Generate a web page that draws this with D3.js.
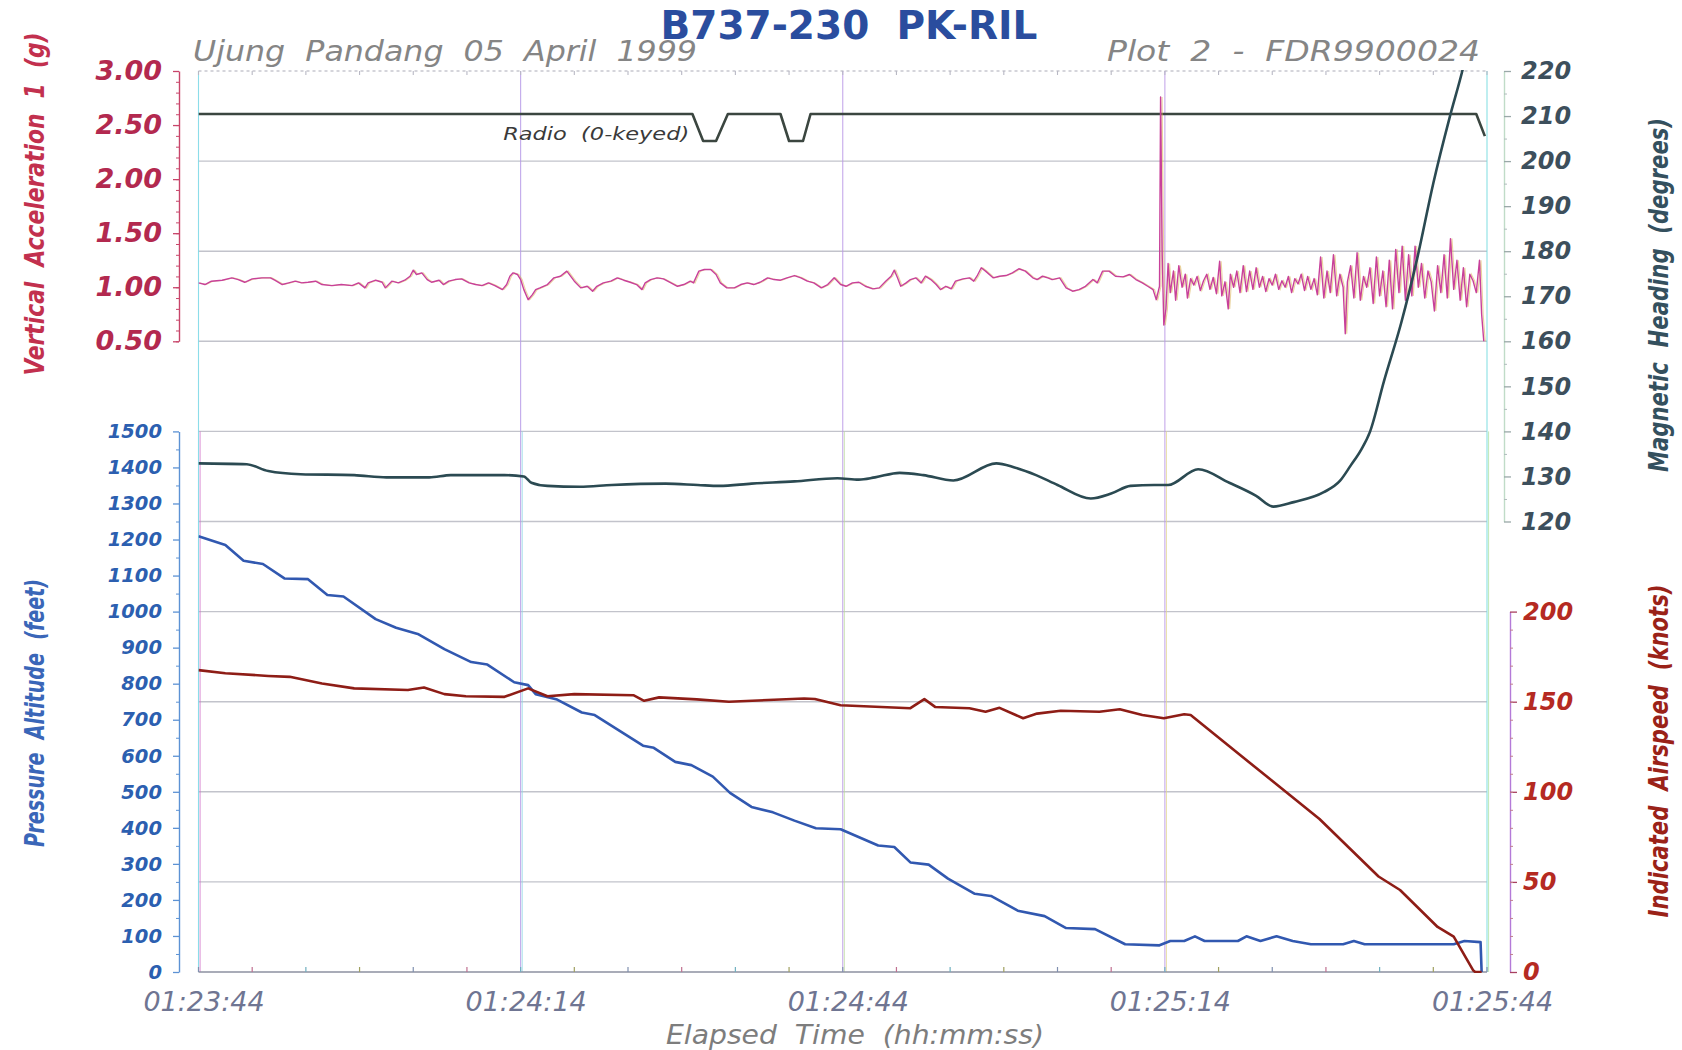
<!DOCTYPE html>
<html><head><meta charset="utf-8">
<script src="https://cdn.jsdelivr.net/npm/d3@7/dist/d3.min.js"></script>
<style>body{margin:0;background:#fff}svg{display:block}text{white-space:pre}</style>
</head><body>
<svg id="chart" width="1682" height="1050"></svg>
<script>
// ---------------- data ----------------
const timeTicks = [0, 30, 60, 90, 120];               // seconds after 01:23:44
const timeLabels = ["01:23:44", "01:24:14", "01:24:44", "01:25:14", "01:25:44"];
const accelTicks = [0.5, 1.0, 1.5, 2.0, 2.5, 3.0];
const altitudeTicks = [0,100,200,300,400,500,600,700,800,900,1000,1100,1200,1300,1400,1500];
const headingTicks = [120,130,140,150,160,170,180,190,200,210,220];
const airspeedTicks = [0, 50, 100, 150, 200];

// Radio keyed (1 = not keyed, 0 = keyed)
const radioKeyed = [[0,1],[46.0,1],[47.0,0],[48.2,0],[49.3,1],[54.2,1],[55.0,0],[56.3,0],[57.0,1],[119.0,1],[119.8,0.18]];

// Vertical acceleration (g)
const accelG = [
[0.0,1.040],[0.6,1.025],[1.2,1.056],[2.2,1.065],[3.1,1.087],[3.7,1.071],[4.3,1.046],[5.0,1.077],[5.9,1.087],[6.7,1.087],
[7.1,1.065],[7.8,1.025],[8.4,1.040],[9.0,1.056],[9.6,1.040],[10.2,1.046],[10.9,1.056],[11.5,1.025],[12.4,1.015],[13.3,1.025],
[14.3,1.015],[14.9,1.040],[15.5,0.994],[15.8,1.040],[16.5,1.065],[17.1,1.046],[17.4,0.994],[18.0,1.056],[18.6,1.040],[19.2,1.065],
[19.7,1.102],[20.0,1.158],[20.3,1.118],[20.8,1.133],[21.3,1.071],[21.7,1.046],[22.4,1.065],[22.8,1.025],[23.3,1.056],[23.9,1.071],
[24.5,1.077],[25.2,1.040],[25.8,1.025],[26.4,1.015],[27.0,1.040],[27.6,1.015],[28.3,0.978],[28.7,1.025],[29.0,1.102],[29.3,1.133],
[29.7,1.118],[30.0,1.071],[30.3,0.978],[30.7,0.885],[31.1,0.932],[31.4,0.978],[31.8,0.994],[32.5,1.025],[33.1,1.087],[33.7,1.102],
[34.3,1.149],[35.0,1.056],[35.6,0.994],[36.2,1.009],[36.7,0.963],[37.1,1.009],[37.7,1.040],[38.4,1.056],[39.0,1.087],[39.6,1.065],
[40.2,1.046],[40.8,1.025],[41.3,0.978],[41.6,1.040],[42.1,1.071],[42.7,1.087],[43.3,1.077],[44.0,1.040],[44.6,1.009],[45.2,1.025],
[45.8,1.056],[46.1,1.040],[46.6,1.149],[47.1,1.164],[47.7,1.164],[48.2,1.118],[48.6,1.040],[49.2,0.994],[49.9,0.994],[50.5,1.025],
[51.1,1.040],[51.7,1.025],[52.3,1.046],[53.0,1.087],[53.6,1.071],[54.2,1.065],[54.8,1.087],[55.5,1.108],[56.1,1.087],[56.7,1.056],
[57.3,1.040],[58.0,0.994],[58.6,1.025],[59.2,1.087],[59.8,1.025],[60.3,1.009],[60.9,1.040],[61.5,1.046],[62.1,1.009],[62.8,0.985],
[63.4,0.994],[64.0,1.056],[64.5,1.102],[64.8,1.158],[65.1,1.087],[65.4,1.009],[65.9,1.040],[66.3,1.071],[66.8,1.087],[67.3,1.040],
[67.7,1.102],[68.2,1.071],[68.7,1.025],[69.1,0.978],[69.6,1.009],[70.1,0.985],[70.5,1.056],[71.2,1.077],[71.8,1.087],[72.2,1.056],
[72.5,1.102],[72.9,1.180],[73.3,1.149],[74.0,1.087],[74.6,1.102],[75.2,1.108],[75.8,1.133],[76.4,1.171],[77.0,1.149],[77.7,1.087],
[78.1,1.071],[78.6,1.102],[79.1,1.087],[79.5,1.071],[80.2,1.087],[80.8,0.994],[81.4,0.963],[82.0,0.978],[82.6,1.009],[83.3,1.071],
[83.7,1.040],[84.2,1.149],[84.8,1.149],[85.4,1.102],[86.1,1.096],[86.7,1.118],[87.3,1.071],[87.9,1.040],[88.4,1.009],[88.9,0.978],
[89.2,0.885],[89.5,1.009],[89.6,2.76],[89.75,1.30],[89.9,0.65],[90.1,0.80],
[90.3,1.22],[90.5,0.95],[90.8,1.15],[91.0,0.88],[91.3,1.20],[91.6,1.00],[91.9,1.12],[92.1,0.90],[92.4,1.08],[92.7,1.02],
[93.0,1.10],[93.3,0.97],[93.6,1.06],[93.9,1.12],[94.2,0.98],[94.5,1.09],[94.8,0.94],[95.1,1.24],[95.3,0.92],[95.6,1.05],
[95.9,0.80],[96.1,1.12],[96.4,1.00],[96.7,1.15],[97.0,0.95],[97.3,1.20],[97.6,0.96],[97.9,1.15],[98.2,0.98],[98.5,1.18],
[98.8,1.00],[99.1,1.10],[99.4,0.96],[99.7,1.08],[100.0,1.02],[100.3,1.12],[100.6,0.98],[100.9,1.06],[101.2,1.00],[101.5,1.10],
[101.8,0.95],[102.1,1.08],[102.4,1.03],[102.7,1.12],[103.0,0.97],[103.3,1.10],[103.6,0.98],[103.9,1.08],[104.2,0.93],[104.5,1.28],
[104.8,0.90],[105.1,1.15],[105.4,0.95],[105.7,1.30],[106.0,0.92],[106.3,1.12],[106.6,1.00],[106.8,0.57],[107.0,1.05],[107.3,1.20],
[107.6,0.90],[107.9,1.32],[108.2,0.88],[108.5,1.10],[108.8,1.00],[109.1,1.18],[109.4,0.85],[109.7,1.28],[110.0,0.92],[110.3,1.15],
[110.6,0.82],[110.9,1.25],[111.2,0.80],[111.5,1.35],[111.8,0.95],[112.1,1.38],[112.4,0.88],[112.7,1.30],[113.0,0.92],[113.3,1.38],
[113.6,1.00],[113.9,1.22],[114.2,0.90],[114.5,1.15],[114.8,1.05],[115.1,0.78],[115.4,1.20],[115.7,0.95],[116.0,1.30],[116.3,0.90],
[116.6,1.45],[116.9,0.98],[117.2,1.25],[117.5,0.88],[117.8,1.18],[118.1,0.82],[118.4,1.12],[118.7,1.06],[119.0,0.95],[119.3,1.25],
[119.5,0.75],[119.7,0.50]
];

// Magnetic heading (degrees)
const headingDeg = [
[0,132.9],[4.5,132.7],[6.5,131.2],[9.5,130.5],[14.5,130.3],[17.5,129.8],[21.5,129.8],[23.5,130.3],[28.5,130.3],[30.3,130.0],
[31.0,128.6],[32.5,127.9],[35.5,127.7],[38.5,128.1],[43.5,128.4],[46.5,128.1],[48.5,127.9],[51.5,128.4],[55.5,128.9],[59.5,129.6],
[61.5,129.3],[63.0,129.8],[65.3,130.8],[67.5,130.3],[70.3,129.1],[74.3,132.9],[76.0,132.0],[78.0,130.3],[80.0,128.1],[83.1,125.1],
[85.0,126.2],[86.8,127.9],[89.0,128.1],[90.3,128.1],[93.1,131.6],[96.0,128.6],[98.5,125.7],[100.1,123.3],[102.0,124.3],[104.8,126.5],
[106.3,129.0],[107.3,132.4],[108.3,136.0],[109.1,139.9],[110.4,151.1],[112.0,164.0],[113.5,178.4],[115.0,195.1],[116.5,209.5],[117.7,220.0],[118.5,228.0]
];

// Pressure altitude (feet)
const altitudeFt = [
[0,1209],[2.5,1185],[4.2,1141],[6.0,1132],[8.0,1092],[10.2,1090],[12.0,1046],[13.5,1042],[16.5,979],[18.4,955],
[20.5,937],[22.9,896],[25.4,860],[26.9,853],[29.4,804],[30.7,796],[31.4,771],[33.4,756],[35.7,720],[36.9,713],
[41.4,628],[42.4,622],[44.4,583],[45.9,574],[47.9,542],[49.5,497],[51.5,458],[53.5,443],[55.5,420],[57.5,399],
[59.8,396],[63.3,351],[64.8,347],[66.3,304],[68.0,298],[69.8,259],[72.3,217],[73.8,211],[76.3,170],[78.8,155],
[80.8,122],[83.5,119],[86.3,77],[89.5,74],[90.5,86],[91.8,86],[92.8,99],[93.7,86],[96.8,86],[97.6,99],
[98.9,86],[100.4,99],[101.9,86],[103.6,77],[106.6,77],[107.6,86],[108.6,77],[116.9,77],[117.9,86],[119.4,83],[119.5,0]
];

// Indicated airspeed (knots)
const airspeedKt = [
[0,167.5],[2.5,165.8],[6.5,164.3],[8.5,163.8],[11.5,160.1],[14.5,157.4],[19.5,156.5],[21.0,157.9],[22.9,154.2],[24.9,153.0],
[28.5,152.7],[30.7,157.4],[32.5,153.0],[35.0,154.2],[40.5,153.6],[41.5,150.5],[42.9,152.4],[46.4,151.3],[49.4,150.0],[56.4,151.8],
[57.4,151.5],[59.8,148.0],[66.3,146.4],[67.6,151.4],[68.6,147.1],[71.8,146.4],[73.3,144.4],[74.6,146.6],[76.8,140.8],[78.1,143.4],
[80.3,145.0],[83.9,144.4],[85.8,145.8],[87.9,142.6],[89.9,140.8],[91.8,143.0],[92.4,142.6],[99.9,106.5],[104.4,84.9],[109.9,53.0],
[111.9,45.5],[115.4,25.0],[116.9,19.6],[118.7,1.0],[118.9,0],[119.5,0]
];

// ---------------- layout ----------------
const svg = d3.select("#chart");
const L = 198.5, R = 1487, T = 71, B = 972, row = (B - T) / 10;
const FONT = "'DejaVu Sans', 'Liberation Sans', sans-serif";

const x = d3.scaleLinear().domain([0, 120]).range([L, R]);
const yAcc = d3.scaleLinear().domain([0.5, 3]).range([T + 3 * row, T]);
const yHead = d3.scaleLinear().domain([120, 220]).range([T + 5 * row, T]);
const yAlt = d3.scaleLinear().domain([0, 1500]).range([B, T + 4 * row]);
const yIas = d3.scaleLinear().domain([0, 200]).range([B, T + 6 * row]);
const yRadio = d3.scaleLinear().domain([0, 1]).range([141, 114]);

svg.append("rect").attr("width", 1682).attr("height", 1050).attr("fill", "#ffffff");

svg.append("defs").append("clipPath").attr("id", "plotclip")
  .append("rect").attr("x", L).attr("y", T - 1).attr("width", R - L + 2).attr("height", B - T + 2);

// ---------------- grid ----------------
const grid = svg.append("g");
const hGrid = headingTicks.filter(d => (220 - d) % 20 === 0 && d < 220).map(d => yHead(d))
  .concat(airspeedTicks.filter(d => d > 0).map(d => yIas(d)));
grid.selectAll("line.h").data(hGrid).join("line")
  .attr("x1", L).attr("x2", R).attr("y1", d => d).attr("y2", d => d)
  .attr("stroke", "#c2c3cb").attr("stroke-width", 1.4);
// top border (dotted)
grid.append("line").attr("x1", L).attr("x2", R).attr("y1", T).attr("y2", T)
  .attr("stroke", "#c8c8d0").attr("stroke-width", 1.5).attr("stroke-dasharray", "3,3");

const vCols = [["#78d8e6", "#d070c8"], ["#b69ae8", "#8ed8e4"], ["#bc9ae8", "#bcdc9c"], ["#bc9ae8", "#e4d890"], ["#78dce0", "#a8e2a0"]];
timeTicks.forEach((t, i) => {
  grid.append("line").attr("x1", x(t)).attr("x2", x(t)).attr("y1", T).attr("y2", B)
    .attr("stroke", vCols[i][0]).attr("stroke-width", 1.1).attr("opacity", 0.85);
  grid.append("line").attr("x1", x(t) + 1.6).attr("x2", x(t) + 1.6).attr("y1", T + row * 4).attr("y2", B)
    .attr("stroke", vCols[i][1]).attr("stroke-width", 1.0).attr("opacity", 0.75);
});

// bottom border with minor ticks
grid.append("line").attr("x1", L).attr("x2", R).attr("y1", B).attr("y2", B)
  .attr("stroke", "#8d90a0").attr("stroke-width", 1.6);
const minorT = d3.range(0, 121, 5);
const tickCols = ["#8090b0", "#c07090", "#70b0c0", "#a0a060"];
grid.selectAll("line.mb").data(minorT).join("line")
  .attr("x1", d => x(d)).attr("x2", d => x(d)).attr("y1", B).attr("y2", B - 5)
  .attr("stroke", (d, i) => tickCols[i % 4]).attr("stroke-width", 1.2);
grid.selectAll("line.mt").data(minorT).join("line")
  .attr("x1", d => x(d)).attr("x2", d => x(d)).attr("y1", T).attr("y2", T + 4)
  .attr("stroke", "#b8b8c4").attr("stroke-width", 1.1);

// ---------------- axes ----------------
function styleAxis(g, lineCol, textCol, size) {
  g.select(".domain").attr("stroke", lineCol).attr("stroke-width", 1.4);
  g.selectAll(".tick line").attr("stroke", lineCol).attr("stroke-width", 1.3);
  g.selectAll("text").attr("fill", textCol).attr("font-family", FONT)
    .attr("font-weight", "bold").attr("font-style", "italic").attr("font-size", size);
}
const AX = 179;
// accel (left top)
const gAcc = svg.append("g").attr("transform", `translate(${AX},0)`)
  .call(d3.axisLeft(yAcc).tickValues(accelTicks).tickFormat(d3.format(".2f")).tickSize(6).tickPadding(11).tickSizeOuter(0));
styleAxis(gAcc, "#c8456a", "#b3294f", 27);
svg.append("g").attr("transform", `translate(${AX},0)`)
  .call(d3.axisLeft(yAcc).tickValues(d3.range(0.5, 3.01, 0.1)).tickFormat("").tickSize(3).tickSizeOuter(0))
  .call(g => { g.select(".domain").remove(); g.selectAll("line").attr("stroke", "#c8456a").attr("stroke-width", 1); });

// altitude (left bottom)
const gAlt = svg.append("g").attr("transform", `translate(${AX},0)`)
  .call(d3.axisLeft(yAlt).tickValues(altitudeTicks).tickFormat(d3.format("d")).tickSize(6).tickPadding(11).tickSizeOuter(0));
styleAxis(gAlt, "#5c92d4", "#2c5fb0", 19.5);
svg.append("g").attr("transform", `translate(${AX},0)`)
  .call(d3.axisLeft(yAlt).tickValues(d3.range(50, 1500, 100)).tickFormat("").tickSize(3).tickSizeOuter(0))
  .call(g => { g.select(".domain").remove(); g.selectAll("line").attr("stroke", "#5c92d4").attr("stroke-width", 1); });

// heading (right top)
const gHead = svg.append("g").attr("transform", `translate(1504,0)`)
  .call(d3.axisRight(yHead).tickValues(headingTicks).tickFormat(d3.format("d")).tickSize(7).tickPadding(10).tickSizeOuter(0));
styleAxis(gHead, "#9aa8a8", "#3d4f5c", 24);
gHead.select(".domain").attr("stroke", "#c0dcc8");
svg.append("g").attr("transform", `translate(1504,0)`)
  .call(d3.axisRight(yHead).tickValues(d3.range(125, 220, 10)).tickFormat("").tickSize(3).tickSizeOuter(0))
  .call(g => { g.select(".domain").remove(); g.selectAll("line").attr("stroke", "#b0bcbc").attr("stroke-width", 1); });

// airspeed (right bottom)
const gIas = svg.append("g").attr("transform", `translate(1510,0)`)
  .call(d3.axisRight(yIas).tickValues(airspeedTicks).tickFormat(d3.format("d")).tickSize(7).tickPadding(6).tickSizeOuter(0));
styleAxis(gIas, "#a84060", "#b52a22", 24);
gIas.select(".domain").attr("stroke", "#b47ad8");
svg.append("g").attr("transform", `translate(1510,0)`)
  .call(d3.axisRight(yIas).tickValues(d3.range(10, 200, 10)).tickFormat("").tickSize(3).tickSizeOuter(0))
  .call(g => { g.select(".domain").remove(); g.selectAll("line").attr("stroke", "#c08090").attr("stroke-width", 1); });

// time axis labels
const gX = svg.append("g").attr("transform", `translate(5,${B})`)
  .call(d3.axisBottom(x).tickValues(timeTicks).tickFormat((d, i) => timeLabels[i]).tickSize(0).tickPadding(20));
gX.select(".domain").remove();
gX.selectAll("text").attr("font-family", FONT).attr("font-style", "italic")
  .attr("font-size", 27).attr("fill", "#6f7592");

// ---------------- series ----------------
const plot = svg.append("g").attr("clip-path", "url(#plotclip)");
const mk = (ys) => d3.line().x(d => x(d[0])).y(d => ys(d[1]));

plot.append("path").datum(radioKeyed).attr("d", mk(yRadio))
  .attr("fill", "none").attr("stroke", "#3b4640").attr("stroke-width", 2.6).attr("stroke-linejoin", "round");

plot.append("path").datum(accelG).attr("d", mk(yAcc)).attr("transform", "translate(1.5,0)")
  .attr("fill", "none").attr("stroke", "#d8b050").attr("stroke-width", 1.1).attr("opacity", 0.55);
plot.append("path").datum(accelG).attr("d", mk(yAcc))
  .attr("fill", "none").attr("stroke", "#c8409a").attr("stroke-width", 1.4).attr("stroke-linejoin", "round");

plot.append("path").datum(headingDeg).attr("d", mk(yHead).curve(d3.curveMonotoneX))
  .attr("fill", "none").attr("stroke", "#2b4a52").attr("stroke-width", 2.6);

plot.append("path").datum(altitudeFt).attr("d", mk(yAlt))
  .attr("fill", "none").attr("stroke", "#3158b0").attr("stroke-width", 2.6).attr("stroke-linejoin", "round");

plot.append("path").datum(airspeedKt).attr("d", mk(yIas))
  .attr("fill", "none").attr("stroke", "#8e1d16").attr("stroke-width", 2.6).attr("stroke-linejoin", "round");

// radio label
svg.append("text").attr("x", x(45.7)).attr("y", yRadio(0) - 1).attr("text-anchor", "end")
  .attr("font-family", FONT).attr("font-style", "italic").attr("font-size", 17).attr("fill", "#3a3a3a")
  .attr("textLength", 186).attr("lengthAdjust", "spacingAndGlyphs")
  .text("Radio  (0-keyed)");

// ---------------- titles ----------------
svg.append("text").attr("x", 849).attr("y", 39).attr("text-anchor", "middle")
  .attr("font-family", FONT).attr("font-weight", "bold").attr("font-size", 39).attr("fill", "#2a4d9e")
  .text("B737-230  PK-RIL");
svg.append("text").attr("x", 193).attr("y", 61)
  .attr("font-family", FONT).attr("font-style", "italic").attr("font-size", 29).attr("fill", "#858585")
  .attr("textLength", 504).attr("lengthAdjust", "spacingAndGlyphs")
  .text("Ujung  Pandang  05  April  1999");
svg.append("text").attr("x", 1107).attr("y", 61)
  .attr("font-family", FONT).attr("font-style", "italic").attr("font-size", 29).attr("fill", "#858585")
  .attr("textLength", 373).attr("lengthAdjust", "spacingAndGlyphs")
  .text("Plot  2  -  FDR9900024");
svg.append("text").attr("x", 855).attr("y", 1044).attr("text-anchor", "middle")
  .attr("font-family", FONT).attr("font-style", "italic").attr("font-size", 27).attr("fill", "#7d7d7d")
  .attr("textLength", 378).attr("lengthAdjust", "spacingAndGlyphs")
  .text("Elapsed  Time  (hh:mm:ss)");

function yTitle(txt, cx, cy, col, size, len) {
  svg.append("text").attr("transform", `translate(${cx},${cy}) scale(1.3,1) rotate(-90)`)
    .attr("text-anchor", "middle").attr("font-family", FONT).attr("font-weight", "bold")
    .attr("font-style", "italic").attr("font-size", size).attr("fill", col)
    .attr("textLength", len).attr("lengthAdjust", "spacingAndGlyphs")
    .text(txt);
}
yTitle("Vertical  Acceleration  1  (g)", 44, 204, "#c2304e", 21, 343);
yTitle("Pressure  Altitude  (feet)", 44, 713, "#3a66b8", 20, 268);
yTitle("Magnetic  Heading  (degrees)", 1668, 295, "#34505e", 21, 354);
yTitle("Indicated  Airspeed  (knots)", 1668, 751, "#9a2218", 21, 333);
</script>
</body></html>
